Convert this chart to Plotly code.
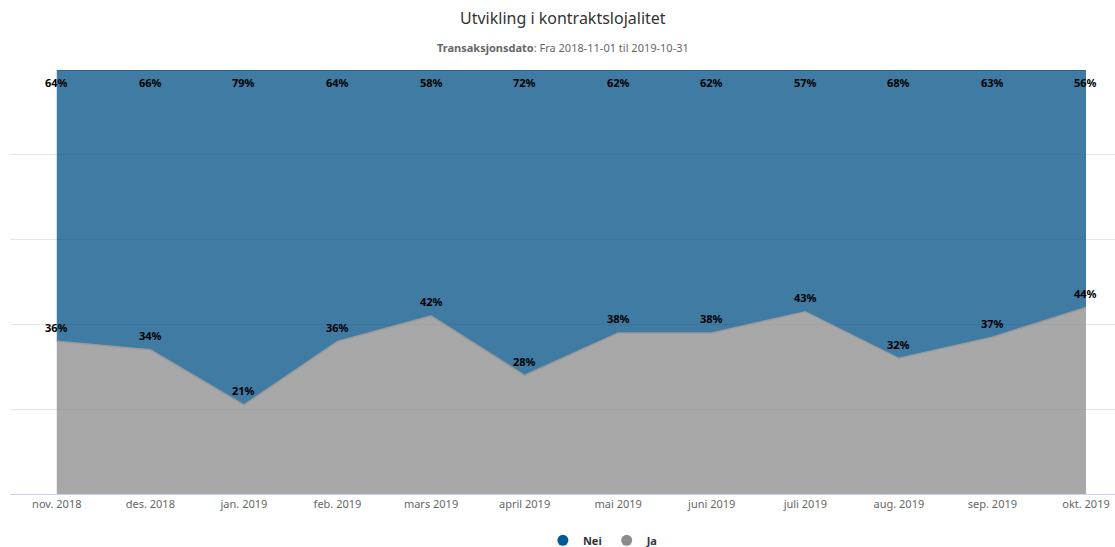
import plotly.graph_objects as go

categories = ["nov. 2018", "des. 2018", "jan. 2019", "feb. 2019", "mars 2019", "april 2019",
              "mai 2019", "juni 2019", "juli 2019", "aug. 2019", "sep. 2019", "okt. 2019"]
ja = [36, 34, 21, 36, 42, 28, 38, 38, 43, 32, 37, 44]
nei = [64, 66, 79, 64, 58, 72, 62, 62, 57, 68, 63, 56]

x = list(range(len(categories)))
total = [a + b for a, b in zip(ja, nei)]
FONT = "Noto Sans"
LABEL_FONT = dict(family=FONT, size=11, color="#000000", weight="bold")

fig = go.Figure()
# stacked areas (Ja bottom, Nei on top)
fig.add_trace(go.Scatter(x=x, y=ja, stackgroup="s", mode="lines",
                         line=dict(color="#999999", width=1.5),
                         fillcolor="rgba(139,139,139,0.75)", showlegend=False, hoverinfo="skip"))
fig.add_trace(go.Scatter(x=x, y=nei, stackgroup="s", mode="lines",
                         line=dict(color="rgba(0,79,132,0.9)", width=1),
                         fillcolor="rgba(0,79,132,0.75)", showlegend=False, hoverinfo="skip"))
# legend entries
fig.add_trace(go.Scatter(x=[None], y=[None], mode="markers", name="Nei",
                         marker=dict(color="#005a96", size=11, symbol="circle")))
fig.add_trace(go.Scatter(x=[None], y=[None], mode="markers", name="Ja",
                         marker=dict(color="#8c8c8c", size=11, symbol="circle")))

annotations = [
    dict(text="Utvikling i kontraktslojalitet", xref="paper", yref="paper",
         x=0.5, y=1, yshift=52, xanchor="center", yanchor="middle", showarrow=False,
         font=dict(family=FONT, size=16, color="#333333")),
    dict(text="<b>Transaksjonsdato</b>: Fra 2018-11-01 til 2019-10-31", xref="paper", yref="paper",
         x=0.5, y=1, yshift=23, xanchor="center", yanchor="middle", showarrow=False,
         font=dict(family=FONT, size=11, color="#666666")),
]
# data labels
for xi, t, v in zip(x, total, nei):
    annotations.append(dict(x=xi, y=t, xref="x", yref="y", text=f"{v}%", showarrow=False,
                            xanchor="center", yanchor="middle", yshift=-12, font=LABEL_FONT))
for xi, v in zip(x, ja):
    annotations.append(dict(x=xi, y=v, xref="x", yref="y", text=f"{v}%", showarrow=False,
                            xanchor="center", yanchor="middle", yshift=14, font=LABEL_FONT))

fig.update_layout(
    width=1115, height=547,
    margin=dict(l=10, r=0, t=70, b=53, autoexpand=False),
    paper_bgcolor="white", plot_bgcolor="white",
    showlegend=True,
    legend=dict(orientation="h", x=0.537, xanchor="center", y=-0.075, yanchor="top",
                traceorder="normal",
                font=dict(family=FONT, size=11, color="#333333", weight="bold"),
                itemwidth=30, tracegroupgap=0),
    xaxis=dict(range=[-0.5, 11.31], tickmode="array", tickvals=x, ticktext=categories,
               showgrid=False, zeroline=False, showline=True, linecolor="#ccd6eb", linewidth=1,
               ticks="", automargin=False, tickfont=dict(family=FONT, size=11, color="#666666")),
    yaxis=dict(range=[0, 100], tickvals=[0, 20, 40, 60, 80, 100], showticklabels=False,
               showgrid=True, gridcolor="#e6e6e6", gridwidth=1, zeroline=False, fixedrange=True,
               automargin=False),
    annotations=annotations,
)
fig.write_html("out.html", config={"displayModeBar": False},
               post_script="document.body.style.margin='0';document.body.style.overflow='hidden';")
